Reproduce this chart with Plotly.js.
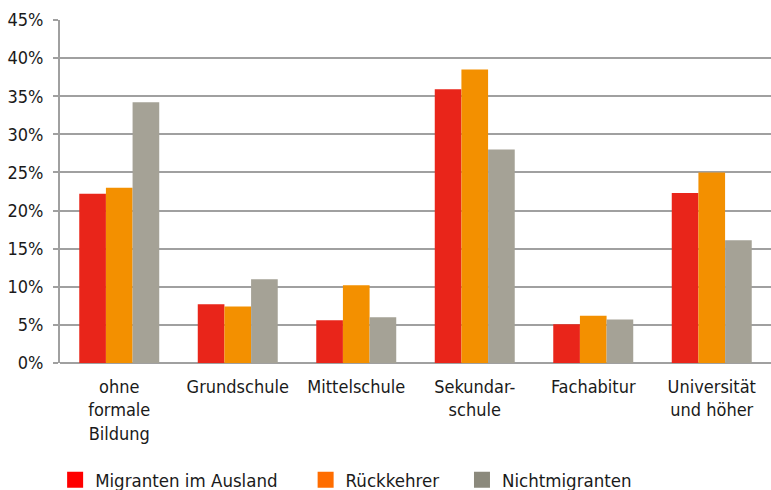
<!DOCTYPE html>
<html>
<head>
<meta charset="utf-8">
<script src="https://cdn.plot.ly/plotly-3.0.1.min.js"></script>
<style>html,body{margin:0;padding:0;background:#fff;}#chart{width:771px;height:490px;}</style>
</head>
<body>
<div id="chart"></div>
<script>
var categories = ["ohne<br>formale<br>Bildung", "Grundschule", "Mittelschule", "Sekundar-<br>schule", "Fachabitur", "Universität<br>und höher"];
var seriesNames = ["Migranten im Ausland", "Rückkehrer", "Nichtmigranten"];
var migrantenImAusland = [22.2, 7.7, 5.6, 35.9, 5.1, 22.3];
var rueckkehrer = [23.0, 7.4, 10.2, 38.5, 6.2, 25.0];
var nichtmigranten = [34.2, 11.0, 6.0, 28.0, 5.7, 16.1];
var yTickVals = [0, 5, 10, 15, 20, 25, 30, 35, 40, 45];
var yTickText = ["0%", "5%", "10%", "15%", "20%", "25%", "30%", "35%", "40%", "45%"];

var barColors = ["#e9251a", "#f39000", "#a5a296"];
var legendColors = ["#ff0000", "#ff6d00", "#8b897c"];
var seriesValues = [migrantenImAusland, rueckkehrer, nichtmigranten];
var FONT = "'Liberation Sans Narrow', 'DejaVu Sans Condensed', 'Arial Narrow', sans-serif";
var legendIds = ["legend", "legend2", "legend3"];
var legendX = [0.0715, 0.3964, 0.5992];

var traces = [];
for (var i = 0; i < 3; i++) {
  traces.push({
    type: "bar", x: categories, y: seriesValues[i], name: seriesNames[i],
    marker: {color: barColors[i], line: {width: 0}},
    showlegend: false, hoverinfo: "none"
  });
}
for (var j = 0; j < 3; j++) {
  traces.push({
    type: "scatter", mode: "markers", x: [null], y: [null], name: seriesNames[j],
    marker: {symbol: "square", size: 16, color: legendColors[j]},
    showlegend: true, hoverinfo: "none", legend: legendIds[j]
  });
}

var layout = {
  width: 771, height: 490,
  margin: {l: 60, r: 0, t: 20, b: 127, pad: 0},
  paper_bgcolor: "#ffffff", plot_bgcolor: "#ffffff",
  font: {family: FONT, size: 18, color: "#1a1a1a"},
  barmode: "group", bargap: 0.325, bargroupgap: 0,
  xaxis: {
    type: "category", categoryorder: "array", categoryarray: categories,
    tickvals: categories, ticktext: categories,
    showgrid: false, zeroline: false, showline: false, ticks: "",
    ticklabelstandoff: 11, tickfont: {family: FONT, size: 18, color: "#1a1a1a"},
    fixedrange: true
  },
  yaxis: {
    range: [0, 45], tickvals: yTickVals, ticktext: yTickText,
    showgrid: true, gridcolor: "#a0a0a0", gridwidth: 2,
    zeroline: true, zerolinecolor: "#a0a0a0", zerolinewidth: 2,
    showline: true, linecolor: "#a0a0a0", linewidth: 2,
    ticks: "outside", ticklen: 5, tickwidth: 2, tickcolor: "#a0a0a0",
    ticklabelstandoff: 6, tickfont: {family: FONT, size: 18, color: "#1a1a1a"},
    fixedrange: true
  },
  showlegend: true
};
for (var k = 0; k < 3; k++) {
  layout[legendIds[k]] = {
    orientation: "h", xref: "container", yref: "container",
    x: legendX[k], xanchor: "left", y: 0.02, yanchor: "middle",
    font: {family: FONT, size: 18.5, color: "#1a1a1a"},
    bgcolor: "rgba(0,0,0,0)"
  };
}

Plotly.newPlot("chart", traces, layout, {staticPlot: true, displayModeBar: false});
</script>
</body>
</html>
